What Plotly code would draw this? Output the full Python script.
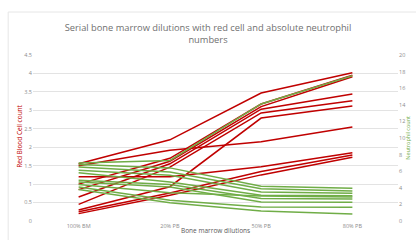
import plotly.graph_objects as go

categories = ["100% BM", "20% PB", "50% PB", "80% PB"]

rbc_series = [
    [1.55, 2.2, 3.47, 4.02],
    [1.5, 1.92, 2.15, 2.55],
    [1.0, 1.7, 3.17, 3.95],
    [0.85, 1.62, 3.1, 3.91],
    [0.65, 1.55, 3.03, 3.44],
    [0.45, 1.46, 2.93, 3.26],
    [0.3, 0.93, 2.79, 3.12],
    [1.2, 1.2, 1.47, 1.85],
    [0.25, 0.76, 1.34, 1.79],
    [0.2, 0.7, 1.25, 1.73],
]

neut_series = [
    [7.0, 7.3, 14.1, 17.5],
    [6.8, 6.4, 4.2, 3.94],
    [6.5, 5.9, 3.9, 3.61],
    [6.1, 5.5, 3.5, 3.34],
    [5.8, 4.7, 3.1, 3.05],
    [4.9, 4.4, 2.7, 2.65],
    [4.7, 4.1, 2.3, 2.25],
    [4.4, 3.4, 3.0, 2.9],
    [4.1, 2.5, 1.7, 1.65],
    [3.8, 2.2, 1.2, 0.84],
]

left_ticks = [0, 0.5, 1, 1.5, 2, 2.5, 3, 3.5, 4, 4.5]
left_labels = ["0", "0.5", "1", "1.5", "2", "2.5", "3", "3.5", "4", "4.5"]
right_ticks = [0, 2, 4, 6, 8, 10, 12, 14, 16, 18, 20]

RED = "#C00000"
GREEN = "#70AD47"
FONT = "Open Sans, sans-serif"

fig = go.Figure()
for s in neut_series:
    fig.add_trace(go.Scatter(x=categories, y=s, mode="lines", yaxis="y2",
                             line=dict(color=GREEN, width=1.5), showlegend=False,
                             hoverinfo="skip"))
for s in rbc_series:
    fig.add_trace(go.Scatter(x=categories, y=s, mode="lines", yaxis="y",
                             line=dict(color=RED, width=1.5), showlegend=False,
                             hoverinfo="skip"))

tickfont = dict(family=FONT, size=5.5, color="#8C8C8C")

fig.update_layout(
    width=416, height=240,
    margin=dict(l=33, r=18, t=55, b=19, autoexpand=False),
    paper_bgcolor="white", plot_bgcolor="white",
    hovermode=False,
    title=dict(text="Serial bone marrow dilutions with red cell and absolute neutrophil<br>numbers",
               x=0.5, xanchor="center", y=0.87, yanchor="middle",
               font=dict(family=FONT, size=9.3, color="#707070")),
    xaxis=dict(type="category", showgrid=False, showline=False, ticks="",
               tickfont=tickfont, range=[-0.5, 3.5], automargin=False),
    yaxis=dict(range=[0, 4.5], tickvals=left_ticks, ticktext=left_labels,
               showgrid=True, gridcolor="#E3E3E3", gridwidth=1, zeroline=False,
               showline=False, ticks="", tickfont=tickfont, automargin=False),
    yaxis2=dict(range=[0, 20], tickvals=right_ticks, overlaying="y", side="right",
                showgrid=False, zeroline=False, showline=False, ticks="",
                tickfont=tickfont, automargin=False),
)

fig.add_annotation(text="Red Blood Cell count", xref="paper", yref="paper",
                   x=-0.055, y=0.51, textangle=-90, showarrow=False,
                   font=dict(family=FONT, size=6.5, color=RED))
fig.add_annotation(text="Neutrophil count", xref="paper", yref="paper",
                   x=1.043, y=0.5, textangle=-90, showarrow=False,
                   font=dict(family=FONT, size=5.5, color=GREEN))
fig.add_annotation(text="Bone marrow dilutions", xref="paper", yref="paper",
                   x=0.5, y=-0.098, showarrow=False,
                   font=dict(family=FONT, size=6.5, color="#595959"))

fig.add_shape(type="rect", xref="paper", yref="paper",
              x0=-0.068, x1=1.2, y0=-0.3, y1=1.259,
              line=dict(color="#E6E6E6", width=1), layer="below")

fig.write_html("out.html", config={"displayModeBar": False},
               post_script="document.body.style.margin='0';document.body.style.padding='0';")
